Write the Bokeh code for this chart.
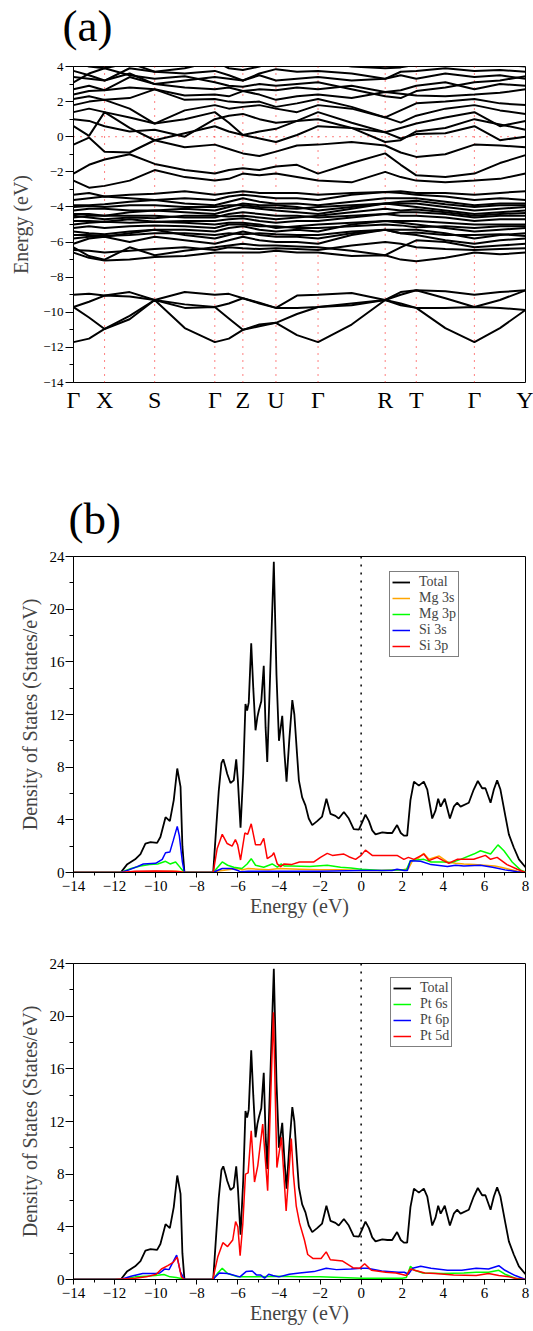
from bokeh.plotting import figure
from bokeh.layouts import column
from bokeh.models import Range1d, FixedTicker, Span, Legend, LegendItem
from bokeh.embed import file_html
from bokeh.resources import INLINE

FONT = "Liberation Serif"

# ---------------- (a) band structure ----------------
# k-path positions (arbitrary distance units); high-symmetry points and mid-points
K = [0, 15.5, 31, 56, 81, 111, 141, 155, 169, 185.5, 202, 223, 244, 277.5, 311, 326.5, 342, 371, 400, 425.5, 451]
HS_K = [0, 31, 81, 141, 169, 202, 244, 311, 342, 400, 451]
HS_LABELS = ["Γ", "X", "S", "Γ", "Z", "U", "Γ", "R", "T", "Γ", "Y"]

# lower (s-like) bands
L1 = [-9.0, -8.95, -9.05, -8.85, -9.3, -8.85, -9.0, -8.95, -9.2, -9.45, -9.75, -9.05, -9.0, -8.9, -9.3, -8.85, -8.75, -8.8, -9.0, -8.85, -8.75]
L2 = [-9.7, -9.4, -9.05, -9.1, -9.3, -9.55, -9.7, -9.5, -9.2, -9.5, -9.75, -9.75, -9.7, -9.5, -9.3, -9.0, -8.75, -9.2, -9.7, -9.3, -8.75]
L3 = [-9.7, -10.3, -10.95, -10.2, -9.3, -9.75, -9.7, -10.35, -11.0, -10.8, -10.6, -10.1, -9.7, -9.6, -9.3, -9.6, -9.75, -9.75, -9.7, -9.75, -9.87]
L4 = [-11.7, -11.5, -10.95, -10.4, -9.3, -10.9, -11.7, -11.5, -11.0, -10.7, -10.6, -11.3, -11.7, -10.7, -9.3, -9.5, -9.75, -10.9, -11.7, -10.9, -9.87]

# dense valence block
D1 = [-6.6, -6.9, -7.05, -7.0, -6.85, -6.8, -6.6, -6.6, -6.6, -6.6, -6.5, -6.6, -6.6, -6.8, -6.75, -7.0, -7.1, -6.9, -6.6, -6.7, -6.6]
D2 = [-6.3, -6.8, -7.0, -6.3, -6.75, -6.5, -6.3, -6.2, -6.1, -6.2, -6.2, -6.25, -6.3, -6.5, -6.75, -6.3, -5.9, -6.0, -6.3, -6.2, -6.1]
D3 = [-6.1, -5.8, -5.7, -6.0, -5.7, -5.9, -6.1, -5.9, -5.7, -5.9, -6.0, -6.0, -6.1, -5.6, -5.3, -5.5, -5.6, -5.9, -6.1, -5.9, -5.8]
D4 = [-5.8, -5.7, -5.7, -5.5, -5.3, -5.6, -5.8, -5.6, -5.4, -5.6, -5.7, -5.7, -5.8, -5.5, -5.3, -5.3, -5.3, -5.5, -5.8, -5.6, -5.5]
D5 = [-5.4, -5.5, -5.55, -5.4, -5.3, -5.3, -5.4, -5.2, -5.1, -5.3, -5.4, -5.3, -5.4, -5.0, -4.8, -4.9, -5.0, -5.2, -5.4, -5.3, -5.2]
D6 = [-5.0, -4.9, -4.85, -4.9, -4.85, -4.9, -5.0, -4.9, -4.9, -5.0, -5.2, -5.1, -5.0, -4.9, -4.8, -4.8, -4.8, -4.9, -5.0, -5.0, -5.0]
D7 = [-4.8, -4.8, -4.85, -4.7, -4.85, -4.8, -4.8, -4.7, -4.65, -4.8, -4.9, -4.8, -4.8, -4.6, -4.4, -4.5, -4.5, -4.6, -4.8, -4.7, -4.7]
D8 = [-4.6, -4.5, -4.5, -4.5, -4.5, -4.6, -4.6, -4.4, -4.3, -4.4, -4.5, -4.5, -4.6, -4.5, -4.4, -4.3, -4.3, -4.4, -4.6, -4.5, -4.5]
D9 = [-4.4, -4.4, -4.5, -4.3, -4.2, -4.3, -4.4, -4.2, -4.0, -4.1, -4.2, -4.3, -4.4, -4.1, -3.8, -3.9, -4.0, -4.2, -4.4, -4.3, -4.2]
D10 = [-4.2, -4.1, -4.1, -4.2, -4.2, -4.1, -4.2, -4.0, -3.8, -3.9, -3.9, -4.0, -4.2, -4.0, -3.8, -3.8, -3.8, -4.0, -4.2, -4.1, -4.0]
D11 = [-3.9, -3.9, -3.85, -3.7, -3.6, -3.8, -3.9, -3.7, -3.5, -3.7, -3.82, -3.8, -3.9, -3.7, -3.5, -3.5, -3.5, -3.7, -3.9, -3.8, -3.8]
D12 = [-3.6, -3.5, -3.4, -3.5, -3.6, -3.5, -3.6, -3.4, -3.3, -3.4, -3.5, -3.5, -3.6, -3.3, -3.15, -3.2, -3.3, -3.4, -3.6, -3.5, -3.6]
D13 = [-3.3, -3.2, -3.4, -3.3, -3.25, -3.1, -3.3, -3.2, -3.1, -3.2, -3.2, -3.2, -3.3, -3.2, -3.15, -3.1, -3.2, -3.2, -3.3, -3.2, -3.1]
D14 = [-6.45, -6.5, -6.6, -6.5, -6.4, -6.3, -6.45, -6.3, -6.35, -6.4, -6.35, -6.4, -6.45, -6.2, -6.0, -6.1, -6.3, -6.4, -6.45, -6.4, -6.35]
D15 = [-5.6, -5.6, -5.65, -5.6, -5.5, -5.5, -5.6, -5.5, -5.55, -5.5, -5.55, -5.6, -5.6, -5.4, -5.3, -5.5, -5.45, -5.6, -5.6, -5.55, -5.65]
D16 = [-5.2, -5.1, -5.2, -5.1, -5.05, -5.1, -5.2, -5.0, -5.0, -5.1, -5.1, -5.2, -5.2, -5.1, -5.0, -5.05, -5.15, -5.1, -5.2, -5.1, -5.1]
D17 = [-4.5, -4.6, -4.7, -4.6, -4.65, -4.5, -4.5, -4.55, -4.5, -4.6, -4.7, -4.6, -4.5, -4.3, -4.1, -4.2, -4.15, -4.3, -4.5, -4.4, -4.35]
D18 = [-4.0, -3.95, -4.0, -3.9, -3.9, -4.0, -4.0, -3.9, -3.9, -4.0, -4.05, -4.1, -4.0, -3.9, -3.8, -3.7, -3.65, -3.85, -4.0, -3.9, -3.9]

# upper bands
U1 = [-2.5, -2.9, -2.8, -2.5, -1.9, -2.3, -2.5, -2.4, -2.1, -2.2, -2.1, -2.3, -2.5, -2.6, -2.0, -2.3, -2.5, -2.6, -2.5, -2.4, -2.1]
U2 = [-2.1, -1.6, -1.3, -1.0, -1.55, -1.9, -2.1, -1.9, -1.8, -1.9, -1.7, -1.6, -2.1, -1.5, -0.95, -1.6, -2.2, -2.3, -2.1, -1.5, -1.05]
U3 = [-0.45, -0.05, -0.85, -0.9, -0.2, -0.6, -0.45, -0.7, -0.95, -1.1, -0.85, -0.5, -0.45, -0.3, -0.5, -0.9, -1.15, -1.0, -0.45, -0.5, -0.6]
U4 = [0.6, 0.05, 1.4, 0.5, -0.2, 0.2, 0.6, 0.3, 0.1, -0.1, -0.3, 0.1, 0.6, 0.5, 0.25, -0.1, 0.15, 0.2, 0.6, -0.2, 0.0]
U5 = [1.4, 1.6, 1.4, 1.1, 0.75, 1.0, 1.4, 0.8, 0.1, 0.3, 0.45, 0.9, 1.4, 0.8, 0.25, 0.5, 0.75, 1.1, 1.4, 0.6, 0.9]
U6 = [1.8, 2.0, 2.1, 1.6, 0.75, 1.5, 1.8, 1.6, 1.7, 1.8, 1.6, 1.4, 1.8, 1.6, 1.1, 0.8, 1.2, 1.6, 1.8, 1.5, 1.3]
U7 = [2.15, 2.3, 2.1, 2.2, 2.7, 2.1, 2.15, 2.0, 1.95, 2.0, 1.7, 1.9, 2.15, 1.7, 1.1, 1.5, 1.9, 2.0, 2.15, 1.9, 1.8]
U8 = [2.4, 2.6, 2.65, 2.8, 2.7, 2.35, 2.4, 2.3, 2.6, 2.4, 2.1, 2.3, 2.4, 2.2, 2.55, 2.45, 2.35, 2.3, 2.4, 2.5, 2.7]
U9 = [2.7, 2.9, 2.65, 3.4, 3.0, 2.8, 2.7, 2.8, 2.6, 2.7, 2.65, 2.8, 2.7, 2.9, 2.55, 2.65, 2.9, 3.1, 2.7, 3.0, 2.9]
U10 = [3.4, 3.3, 3.2, 3.6, 3.0, 3.2, 3.4, 3.3, 3.2, 3.5, 3.2, 3.3, 3.4, 3.2, 3.3, 3.5, 3.3, 3.6, 3.4, 3.5, 3.3]
U11 = [3.75, 3.5, 3.2, 3.9, 3.7, 3.6, 3.75, 3.5, 3.2, 3.6, 3.85, 3.7, 3.75, 3.6, 3.3, 3.7, 3.75, 3.9, 3.75, 3.8, 3.7]
U12 = [4.3, 4.0, 3.9, 4.2, 3.7, 3.9, 4.3, 3.9, 3.8, 4.0, 4.3, 4.1, 4.3, 4.0, 3.9, 3.95, 4.1, 4.2, 4.3, 4.1, 4.0]
U13 = [3.1, 3.6, 3.9, 3.5, 3.3, 3.45, 3.1, 2.9, 2.85, 3.0, 2.9, 3.0, 3.1, 2.7, 2.3, 2.2, 2.6, 2.8, 3.1, 3.2, 3.45]
U14 = [1.0, 0.9, 0.6, 0.3, 0.4, 0.0, 1.0, 1.2, 1.3, 1.0, 0.8, 0.9, 1.0, 0.5, -0.3, -0.2, 0.3, 0.5, 1.0, 0.7, 0.4]

BANDS = [L1, L2, L3, L4, D1, D2, D3, D4, D5, D6, D7, D8, D9, D10, D11, D12, D13,
         D14, D15, D16, D17, D18,
         U1, U2, U3, U4, U5, U6, U7, U8, U9, U10, U11, U12, U13, U14]

E_TICKS_A = [-14, -12, -10, -8, -6, -4, -2, 0, 2, 4]
E_MINOR_A = [-13, -11, -9, -7, -5, -3, -1, 1, 3]

# ---------------- (b), (c) density of states ----------------
TOT_E = [-14.0, -11.7, -11.4, -11.0, -10.74, -10.5, -10.25, -9.93, -9.77, -9.52, -9.31, -9.12, -8.95, -8.79, -8.7, -8.6,
         -7.2, -7.05, -6.93, -6.8, -6.71, -6.6, -6.52, -6.36, -6.2, -6.08, -6.0, -5.87, -5.74, -5.63, -5.55, -5.47,
         -5.35, -5.25, -5.14, -5.05, -4.98, -4.86, -4.74, -4.65, -4.57, -4.45, -4.25, -4.12, -4.0, -3.84, -3.73,
         -3.63, -3.5, -3.35, -3.25, -3.12, -3.03, -2.87, -2.71, -2.55, -2.38, -2.14, -1.9, -1.69, -1.49, -1.25,
         -1.09, -0.84, -0.6, -0.36, -0.11, 0.05, 0.21, 0.38, 0.54, 0.7, 1.03, 1.28, 1.51, 1.75, 1.93, 2.08, 2.24,
         2.4, 2.57, 2.81, 3.05, 3.22, 3.46, 3.62, 3.75, 3.87, 4.07, 4.32, 4.51, 4.67, 4.84, 5.24, 5.48, 5.68,
         5.89, 6.05, 6.3, 6.46, 6.62, 6.78, 7.03, 7.19, 7.43, 7.68, 8.0]
TOT_D = [0, 0, 0.6, 1.0, 1.4, 2.2, 2.3, 2.25, 2.7, 4.2, 3.9, 5.5, 7.9, 6.5, 2.0, 0,
         0, 3.5, 6.2, 8.3, 8.6, 8.0, 7.5, 6.8, 7.0, 8.6, 7.0, 3.4, 7.5, 12.8, 12.3, 12.9,
         17.4, 14.0, 10.8, 11.8, 12.3, 13.0, 15.7, 11.0, 8.4, 14.0, 23.6, 15.0, 10.0, 11.9, 9.0,
         6.9, 10.0, 13.1, 12.0, 9.0, 7.0, 5.7, 5.1, 4.1, 3.6, 3.9, 4.25, 5.6, 4.45, 4.3,
         4.1, 4.6, 4.1, 3.3, 3.25, 3.8, 4.4, 3.9, 3.2, 2.9, 3.05, 3.0, 3.0, 3.6, 3.0, 2.8, 2.8,
         5.5, 6.9, 6.6, 6.9, 6.3, 4.1, 4.7, 5.6, 5.0, 5.6, 4.1, 5.0, 5.3, 5.0, 5.3, 6.3, 6.95,
         6.4, 6.4, 5.3, 6.3, 7.0, 6.3, 4.2, 2.9, 1.9, 1.0, 0.4]

MG3S_E = [-14, -11.7, -11.0, -10.0, -9.0, -8.7, -8.6, -7.2, -7.0, -6.5, -6.0, -5.8, -5.5, -5.0, -4.5, -4.0, -3.0, -2.0, -1.0,
          0.0, 1.0, 2.0, 2.3, 2.5, 2.8, 3.05, 3.3, 3.8, 4.2, 4.6, 5.0, 5.5, 6.0, 6.5, 6.8, 7.2, 7.6, 8.0]
MG3S_D = [0, 0, 0.05, 0.08, 0.1, 0.05, 0, 0, 0.1, 0.2, 0.3, 0.2, 0.3, 0.25, 0.2, 0.3, 0.25, 0.2, 0.2,
          0.15, 0.15, 0.2, 0.3, 0.9, 1.1, 1.45, 1.0, 1.25, 0.8, 0.7, 0.65, 0.6, 0.55, 0.5, 0.4, 0.25, 0.1, 0]

MG3P_E = [-14, -11.7, -11.2, -10.74, -10.3, -9.9, -9.52, -9.3, -9.03, -8.79, -8.6, -7.2, -7.01, -6.76, -6.5, -6.2,
          -5.8, -5.55, -5.35, -5.14, -4.74, -4.33, -4.08, -3.9, -3.75, -3.4, -2.5, -1.65, -1.0, -0.5, 0.0, 1.0,
          2.2, 2.4, 2.7, 3.05, 3.4, 4.0, 4.4, 4.84, 5.48, 5.81, 6.3, 6.66, 6.95, 7.35, 7.75, 8.0]
MG3P_D = [0, 0, 0.3, 0.5, 0.6, 0.65, 0.85, 0.65, 0.8, 0.35, 0, 0, 0.35, 0.8, 0.55, 0.4,
          0.3, 0.65, 1.05, 0.55, 0.4, 0.65, 0.4, 0.65, 0.5, 0.5, 0.45, 0.55, 0.4, 0.35, 0.25, 0.15,
          0.2, 0.9, 0.95, 1.0, 0.8, 0.8, 0.75, 1.0, 1.4, 1.65, 1.4, 2.1, 1.65, 0.8, 0.2, 0.05]

SI3S_E = [-14, -11.7, -11.3, -10.9, -10.6, -10.0, -9.68, -9.52, -9.31, -9.15, -8.95, -8.85, -8.7, -8.6, -7.2, -7.0,
          -6.76, -6.3, -6.0, -5.87, -5.5, -4.0, -2.0, 0.0, 1.5, 1.75, 2.1, 2.25, 2.4, 2.9, 3.4, 3.7, 4.2, 4.6,
          5.0, 5.8, 6.4, 7.0, 7.6, 8.0]
SI3S_D = [0, 0, 0.2, 0.45, 0.65, 0.7, 1.0, 1.5, 1.55, 2.4, 3.5, 2.8, 0.8, 0, 0, 0.15,
          0.3, 0.3, 0.15, 0.05, 0.1, 0.1, 0.1, 0.15, 0.15, 0.25, 0.15, 0.15, 0.9, 0.85, 0.6, 0.55, 0.45, 0.55,
          0.5, 0.55, 0.4, 0.2, 0.05, 0]

SI3P_E = [-14, -11.7, -11.0, -10.0, -9.2, -8.8, -8.6, -7.2, -7.01, -6.76, -6.52, -6.28, -6.12, -6.01, -5.87, -5.66,
          -5.52, -5.35, -5.14, -4.9, -4.74, -4.57, -4.33, -4.25, -4.08, -3.92, -3.75, -3.4, -3.0, -2.3, -1.98,
          -1.65, -1.4, -0.84, -0.6, -0.27, 0.0, 0.21, 0.54, 1.0, 1.75, 2.08, 2.3, 2.57, 3.05, 3.3, 3.7, 4.0,
          4.27, 4.67, 5.48, 6.05, 6.3, 6.62, 7.1, 7.6, 8.0]
SI3P_D = [0, 0, 0.1, 0.12, 0.1, 0.05, 0, 0, 1.8, 2.9, 2.2, 2.0, 2.5, 2.1, 0.95, 3.0,
          2.9, 3.7, 2.1, 2.1, 2.6, 1.05, 1.3, 1.5, 0.65, 0.45, 0.65, 0.6, 0.8, 0.8, 1.15,
          1.45, 1.3, 1.4, 1.2, 1.0, 1.3, 1.7, 1.3, 1.3, 1.3, 1.0, 1.15, 1.0, 1.4, 0.9, 1.15, 0.9,
          0.7, 1.0, 1.0, 1.3, 1.0, 1.15, 0.6, 0.25, 0]

PT6S_E = [-14, -11.7, -11.0, -10.5, -10.0, -9.6, -9.3, -9.0, -8.7, -8.6, -7.2, -7.0, -6.76, -6.5, -6.0, -5.5, -5.0,
          -4.0, -3.0, -2.0, -1.0, 0.0, 1.0, 2.0, 2.2, 2.4, 2.6, 3.0, 4.0, 5.0, 5.6, 6.2, 6.7, 7.0, 7.5, 8.0]
PT6S_D = [0, 0, 0.2, 0.25, 0.3, 0.38, 0.2, 0.15, 0.05, 0, 0, 0.45, 0.85, 0.45, 0.2, 0.2, 0.2,
          0.25, 0.2, 0.2, 0.15, 0.1, 0.1, 0.1, 0.15, 1.0, 0.7, 0.5, 0.45, 0.5, 0.55, 0.55, 0.7, 0.4, 0.1, 0.0]

PT6P_E = [-14, -11.7, -11.2, -10.63, -10.0, -9.8, -9.55, -9.35, -8.98, -8.8, -8.6, -7.2, -7.1, -6.9, -6.5, -5.9,
          -5.6, -5.3, -5.1, -4.9, -4.7, -4.5, -4.3, -4.0, -3.5, -3.0, -2.3, -1.7, -1.2, -0.5, 0.0, 0.3, 1.0,
          1.8, 2.1, 2.3, 2.5, 2.9, 3.4, 4.2, 4.9, 5.6, 6.2, 6.7, 7.0, 7.5, 8.0]
PT6P_D = [0, 0, 0.25, 0.45, 0.45, 0.5, 0.8, 0.75, 1.85, 0.6, 0, 0, 0.2, 0.5, 0.45, 0.2,
          0.6, 0.65, 0.35, 0.35, 0.1, 0.4, 0.3, 0.2, 0.4, 0.5, 0.6, 0.85, 0.75, 0.8, 0.85, 0.85, 0.65,
          0.55, 0.55, 0.4, 0.85, 1.0, 0.85, 0.7, 0.7, 0.85, 0.8, 1.05, 0.7, 0.3, 0.0]

PT5D_E = [-14, -12.0, -11.0, -10.46, -9.97, -9.72, -9.41, -9.15, -8.95, -8.75, -8.6, -7.22, -6.98, -6.73, -6.5,
          -6.25, -6.11, -6.0, -5.89, -5.76, -5.63, -5.5, -5.35, -5.19, -5.03, -4.79, -4.55, -4.27, -4.1, -3.88,
          -3.65, -3.4, -3.3, -3.16, -3.0, -2.76, -2.6, -2.35, -1.95, -1.7, -1.5, -0.9, -0.4, -0.07, 0.17, 0.5,
          1.2, 1.7, 2.2, 2.4, 2.6, 3.1, 3.6, 4.5, 5.6, 6.2, 6.7, 7.2, 7.6, 8.0]
PT5D_D = [0, 0, 0.1, 0.2, 0.4, 0.8, 1.05, 1.3, 1.7, 0.2, 0, 0, 1.7, 2.8, 2.5,
          3.0, 4.4, 4.0, 1.8, 4.2, 8.0, 8.1, 11.3, 7.4, 8.65, 11.8, 6.75, 20.3, 8.5, 10.8,
          5.2, 10.7, 8.0, 5.6, 4.3, 3.0, 1.9, 1.6, 1.6, 2.1, 1.5, 1.4, 0.9, 0.85, 1.2, 0.7,
          0.55, 0.5, 0.3, 0.8, 0.7, 0.5, 0.45, 0.35, 0.3, 0.45, 0.3, 0.2, 0.05, 0.0]

E_TICKS = [-14, -12, -10, -8, -6, -4, -2, 0, 2, 4, 6, 8]
E_MINOR = [-13, -11, -9, -7, -5, -3, -1, 1, 3, 5, 7]
DOS_TICKS = [0, 4, 8, 12, 16, 20, 24]
DOS_MINOR = [2, 6, 10, 14, 18, 22]


def lab(v):
    return ("\u2212" + str(abs(v))) if v < 0 else str(v)


def style_axis(ax, ticks, minor, size, tick_out, minor_out, standoff):
    ax.ticker = FixedTicker(ticks=ticks, minor_ticks=minor)
    ax.major_label_overrides = {t: lab(t) for t in ticks}
    ax.major_label_text_font = FONT
    ax.major_label_text_font_size = size
    ax.major_label_text_color = "black"
    ax.axis_line_color = "black"
    ax.major_tick_line_color = "black"
    ax.minor_tick_line_color = "black"
    ax.major_tick_in = 0
    ax.minor_tick_in = 0
    ax.major_tick_out = tick_out
    ax.minor_tick_out = minor_out
    ax.major_label_standoff = standoff


def base_fig(height, xr, yr, top, bottom, title=None):
    p = figure(width=533, height=height, x_range=xr, y_range=yr, title=title,
               output_backend="svg", toolbar_location=None,
               min_border_left=73, min_border_right=8,
               min_border_top=top, min_border_bottom=bottom)
    p.xgrid.visible = False
    p.ygrid.visible = False
    p.outline_line_color = "black"
    p.outline_line_width = 1
    p.background_fill_color = "white"
    p.border_fill_color = "white"
    return p


def style_title(p, offset, standoff, valign):
    p.title.text_font = FONT
    p.title.text_font_size = "45px"
    p.title.text_font_style = "normal"
    p.title.text_color = "black"
    p.title.align = "left"
    p.title.vertical_align = valign
    p.title.offset = offset
    p.title.standoff = standoff


# ---- header strip carrying the "(a)" panel tag
ph = figure(width=533, height=60, x_range=Range1d(0, 1), y_range=Range1d(0, 1), title="(a)",
            x_axis_type=None, y_axis_type=None, output_backend="svg", toolbar_location=None,
            min_border_left=73, min_border_right=8, min_border_top=0, min_border_bottom=0)
ph.outline_line_color = None
ph.xgrid.visible = False
ph.ygrid.visible = False
ph.background_fill_color = "white"
ph.border_fill_color = "white"
style_title(ph, -11, 0, "top")

# ---- panel (a)
pa = base_fig(390, Range1d(0, 451), Range1d(-14, 4), 6, 68)
for k in HS_K[1:-1]:
    pa.add_layout(Span(location=k, dimension="height", line_color="red",
                       line_dash="1 6", line_width=1, level="underlay"))
pa.add_layout(Span(location=0, dimension="width", line_color="red",
                   line_dash="1 6", line_width=1, level="underlay"))
pa.multi_line(xs=[K] * len(BANDS), ys=BANDS, line_color="black", line_width=2)

style_axis(pa.yaxis[0], E_TICKS_A, E_MINOR_A, "13px", 8, 4, 2)
pa.yaxis.axis_label = "Energy (eV)"
pa.yaxis.axis_label_text_font = FONT
pa.yaxis.axis_label_text_font_size = "20px"
pa.yaxis.axis_label_text_font_style = "normal"
pa.yaxis.axis_label_standoff = 8

pa.xaxis.ticker = FixedTicker(ticks=HS_K, minor_ticks=[])
pa.xaxis.major_label_overrides = dict(zip(HS_K, HS_LABELS))
pa.xaxis.major_label_text_font = FONT
pa.xaxis.major_label_text_font_size = "24px"
pa.xaxis.major_label_text_color = "black"
pa.xaxis.major_tick_line_color = None
pa.xaxis.minor_tick_line_color = None
pa.xaxis.major_tick_out = 0
pa.xaxis.minor_tick_out = 0
pa.xaxis.axis_line_color = None
pa.xaxis.major_label_standoff = 4


def dos_fig(height, top, bottom, title=None):
    p = base_fig(height, Range1d(-14, 8), Range1d(0, 24), top, bottom, title=title)
    p.add_layout(Span(location=0, dimension="height", line_color="black",
                      line_dash="2 6", line_width=1.5, level="underlay"))
    style_axis(p.xaxis[0], E_TICKS, E_MINOR, "15px", 5, 3, 3)
    style_axis(p.yaxis[0], DOS_TICKS, DOS_MINOR, "15px", 8, 4, 1)
    p.xaxis.axis_label = "Energy (eV)"
    p.yaxis.axis_label = "Density of States (States/eV)"
    for ax in (p.xaxis[0], p.yaxis[0]):
        ax.axis_label_text_font = FONT
        ax.axis_label_text_font_size = "20px"
        ax.axis_label_text_font_style = "normal"
    p.xaxis.axis_label_standoff = 1
    p.yaxis.axis_label_standoff = 6
    return p


def add_legend(p, items, x, y):
    leg = Legend(items=[LegendItem(label=n, renderers=[r]) for n, r in items],
                 location=(x, y), label_text_font=FONT, label_text_font_size="14px",
                 glyph_width=18, glyph_height=12, label_height=12, spacing=0,
                 padding=2, margin=0, label_standoff=9,
                 border_line_color="black", border_line_width=1,
                 background_fill_color="white", background_fill_alpha=1.0)
    p.add_layout(leg)


# ---- panel (b)
pb = dos_fig(485, 106, 63, title="(b)")
style_title(pb, -5, 25, "bottom")
rb = [("Total", pb.line(TOT_E, TOT_D, line_color="black", line_width=1.8)),
      ("Mg 3s", pb.line(MG3S_E, MG3S_D, line_color="#FFA500", line_width=1.5)),
      ("Mg 3p", pb.line(MG3P_E, MG3P_D, line_color="#00FF00", line_width=1.5)),
      ("Si 3s", pb.line(SI3S_E, SI3S_D, line_color="#0000FF", line_width=1.5)),
      ("Si 3p", pb.line(SI3P_E, SI3P_D, line_color="#FF0000", line_width=1.5))]
add_legend(pb, rb, 316, 215)

# ---- panel (c)
pc = dos_fig(396, 28, 52)
rc = [("Total", pc.line(TOT_E, TOT_D, line_color="black", line_width=1.8)),
      ("Pt 6s", pc.line(PT6S_E, PT6S_D, line_color="#00FF00", line_width=1.5)),
      ("Pt 6p", pc.line(PT6P_E, PT6P_D, line_color="#0000FF", line_width=1.5)),
      ("Pt 5d", pc.line(PT5D_E, PT5D_D, line_color="#FF0000", line_width=1.5))]
add_legend(pc, rc, 317, 232)

layout = column(ph, pa, pb, pc, spacing=0)
open("out.html", "w").write(file_html(layout, INLINE))
